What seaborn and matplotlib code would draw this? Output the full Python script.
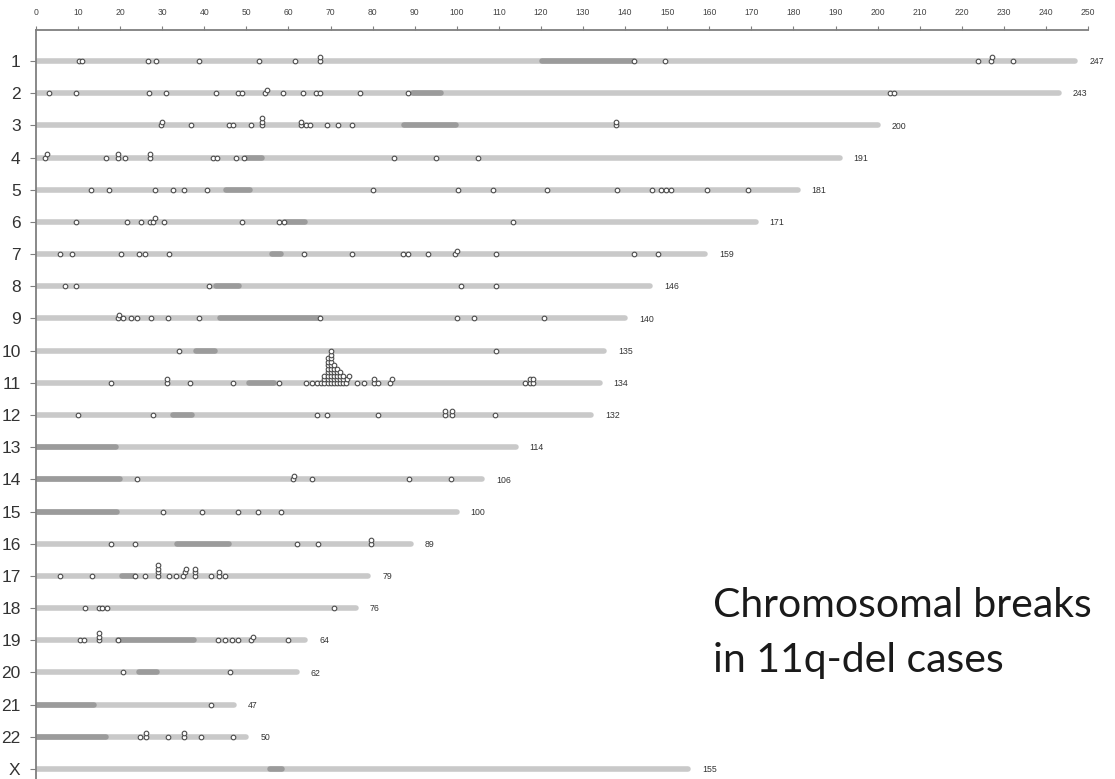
import numpy as np
import pandas as pd
import matplotlib
matplotlib.use("Agg")
import matplotlib.pyplot as plt
import seaborn as sns

# ---------------- data ----------------
chromosomes = ['1', '2', '3', '4', '5', '6', '7', '8', '9', '10', '11', '12',
               '13', '14', '15', '16', '17', '18', '19', '20', '21', '22', 'X']
lengths = [247, 243, 200, 191, 181, 171, 159, 146, 140, 135, 134, 132,
           114, 106, 100, 89, 79, 76, 64, 62, 47, 50, 155]
length_labels = ['247', '243', '200', '191', '181', '171', '159', '146', '140', '135',
                 '134', '132', '114', '106', '100', '89', '79', '76', '64', '62',
                 '47', '50', '155']
# darker (centromeric / heterochromatic) segment of each chromosome
band_start = [120.3, 89.6, 87.5, 49.9, 45.1, 59.2, 56.1, 42.7, 43.8, 38.0, 50.5, 32.6,
              0.0, 0.0, 0.0, 33.6, 20.5, np.nan, 19.4, 24.5, 0.0, 0.0, 55.5]
band_end = [142.2, 96.2, 99.7, 53.8, 50.9, 64.0, 58.3, 48.2, 67.4, 42.6, 56.5, 37.0,
            19.0, 19.9, 19.3, 45.8, 23.5, np.nan, 37.6, 28.7, 13.8, 16.7, 58.5]

# breakpoint positions (Mb) per chromosome
brk_1 = [10.3, 11.0, 26.6, 28.5, 38.7, 53.0, 61.6, 67.5, 67.5, 142.2, 149.5,
         223.8, 226.9, 227.3, 232.2]
brk_2 = [3.0, 9.6, 26.9, 30.8, 42.7, 48.0, 49.0, 54.5, 54.9, 58.6, 63.5, 66.5,
         67.6, 77.1, 88.3, 203.0, 203.9]
brk_3 = [29.6, 30.0, 36.9, 45.9, 46.9, 51.0, 53.8, 53.8, 53.8, 63.0, 63.0, 64.1,
         65.1, 69.2, 71.7, 75.0, 137.9, 137.9]
brk_4 = [2.1, 2.5, 16.7, 19.5, 19.5, 21.2, 27.0, 27.0, 42.0, 42.9, 47.5, 49.4,
         85.0, 95.0, 105.1]
brk_5 = [13.0, 17.3, 28.3, 32.5, 35.2, 40.7, 80.1, 100.2, 108.5, 121.5, 138.0,
         146.3, 148.5, 149.6, 151.0, 159.4, 169.1]
brk_6 = [9.6, 21.7, 24.9, 27.2, 27.9, 28.3, 30.4, 49.0, 57.7, 58.9, 113.4]
brk_7 = [5.7, 8.5, 20.1, 24.4, 25.8, 31.6, 63.7, 75.1, 87.1, 88.3, 93.2, 99.6,
         100.0, 109.2, 142.2, 147.8]
brk_8 = [6.8, 9.4, 41.0, 101.0, 109.3]
brk_9 = [19.4, 19.8, 20.6, 22.6, 23.9, 27.4, 31.4, 38.7, 67.4, 100.0, 104.0, 120.7]
brk_10 = [34.0, 109.2]
brk_11 = [17.8, 31.2, 31.2, 36.5, 46.9, 57.7, 64.1, 65.5, 66.7, 67.7,
          68.5, 68.5, 68.5,
          69.3, 69.3, 69.3, 69.3, 69.3, 69.3, 69.3, 69.3,
          70.1, 70.1, 70.1, 70.1, 70.1, 70.1, 70.1, 70.1, 70.1, 70.1,
          70.8, 70.8, 70.8, 70.8, 70.8, 70.8,
          71.5, 71.5, 71.5, 71.5, 71.5,
          72.2, 72.2, 72.2, 72.2,
          72.9, 72.9, 72.9,
          73.6, 74.0, 74.4,
          76.2, 77.9, 80.3, 80.3, 81.3, 84.2, 84.6,
          116.1, 117.3, 117.3, 118.1, 118.1]
brk_12 = [9.9, 27.9, 66.8, 69.1, 81.3, 97.2, 97.2, 98.9, 98.9, 109.0]
brk_13 = []
brk_14 = [24.1, 61.0, 61.4, 65.6, 88.6, 98.6]
brk_15 = [30.2, 39.4, 48.0, 52.7, 58.3]
brk_16 = [17.9, 23.6, 62.1, 67.0, 79.7, 79.7]
brk_17 = [5.7, 13.4, 23.6, 26.0, 29.1, 29.1, 29.1, 29.1, 31.5, 33.3, 34.9, 35.3,
          35.7, 37.9, 37.9, 37.9, 41.6, 43.4, 43.4, 44.9]
brk_18 = [11.6, 14.9, 15.7, 16.9, 70.7]
brk_19 = [10.5, 11.5, 14.9, 14.9, 14.9, 19.4, 43.3, 44.9, 46.6, 48.1, 51.2, 51.6, 59.8]
brk_20 = [20.6, 46.2]
brk_21 = [41.5]
brk_22 = [24.6, 26.2, 26.2, 31.4, 35.2, 35.2, 39.2, 46.7]
brk_X = []

x_ticks = [0, 10, 20, 30, 40, 50, 60, 70, 80, 90, 100, 110, 120, 130, 140, 150,
           160, 170, 180, 190, 200, 210, 220, 230, 240, 250]

all_breaks = [brk_1, brk_2, brk_3, brk_4, brk_5, brk_6, brk_7, brk_8, brk_9, brk_10,
              brk_11, brk_12, brk_13, brk_14, brk_15, brk_16, brk_17, brk_18, brk_19,
              brk_20, brk_21, brk_22, brk_X]

# ---------------- style ----------------
sns.set_theme(style="white")
plt.rcParams['font.family'] = ['Liberation Sans', 'DejaVu Sans']

BAR = '#c9c9c9'
BAND = '#9b9b9b'
AXC = '#7f7f7f'

W, H = 1115, 779
fig = plt.figure(figsize=(W / 100, H / 100), dpi=100)
x0_px, x250_px, top_px = 36, 1088, 29.5
ax = fig.add_axes([x0_px / W, 0, (x250_px - x0_px) / W, 1 - top_px / H])

rows = np.arange(1, len(chromosomes) + 1)
row_gap_px = 32.2
stack_step = 3.5 / row_gap_px   # vertical offset of stacked breakpoints (rows)

# chromosome bars
ax.hlines(rows, 0, lengths, color=BAR, lw=4.0, capstyle='round', zorder=1)
bs = np.array(band_start, dtype=float)
be = np.array(band_end, dtype=float)
ok = ~np.isnan(bs)
ax.hlines(rows[ok], bs[ok], be[ok], color=BAND, lw=4.0, capstyle='round', zorder=2)

# breakpoints, stacking coincident ones upward
recs = []
for r, brks in zip(rows, all_breaks):
    prev = None
    level = 0
    for p in sorted(brks):
        if prev is not None and p - prev <= 0.45:
            level += 1
        else:
            level = 0
        recs.append({'pos': p, 'y': r - level * stack_step})
        prev = p
df = pd.DataFrame(recs)
sns.scatterplot(data=df, x='pos', y='y', marker='o', s=11, color='white',
                edgecolor='#4d4d4d', linewidth=0.8, ax=ax, zorder=3, legend=False)

# length labels
for r, L, lab in zip(rows, lengths, length_labels):
    ax.annotate(lab, xy=(L, r), xytext=(10, -0.5), textcoords='offset points',
                fontsize=6.3, color='#333333', va='center', ha='left')

# axes
ax.set_xlim(0, 250)
ax.set_ylim(23 + (779 - 769) / row_gap_px, 1 - (61 - top_px) / row_gap_px)
ax.set_xticks(x_ticks)
ax.set_xticklabels([str(t) for t in x_ticks])
ax.xaxis.tick_top()
ax.set_yticks(rows)
ax.set_yticklabels(chromosomes)
ax.set_xlabel('')
ax.set_ylabel('')
ax.tick_params(axis='x', top=True, bottom=False, labeltop=True, labelbottom=False,
               direction='out', length=3, width=0.8, color=AXC, labelsize=6.2,
               labelcolor='#444444', pad=6)
ax.tick_params(axis='y', left=True, direction='out', length=4, width=0.8, color=AXC,
               labelsize=12.5, labelcolor='#333333', pad=7)
for s in ['right', 'bottom']:
    ax.spines[s].set_visible(False)
for s in ['left', 'top']:
    ax.spines[s].set_color(AXC)
    ax.spines[s].set_linewidth(1.3)
ax.grid(False)
ax.set_facecolor('white')

# annotation text
fig.text(713 / W, 1 - 617 / H, 'Chromosomal breaks', fontsize=29.5, family=['Lato', 'DejaVu Sans'],
         color='#1a1a1a', va='baseline', ha='left')
fig.text(713 / W, 1 - 672 / H, 'in 11q-del cases', fontsize=29.5, family=['Lato', 'DejaVu Sans'],
         color='#1a1a1a', va='baseline', ha='left')

fig.savefig('out.png', dpi=100, facecolor='white')
